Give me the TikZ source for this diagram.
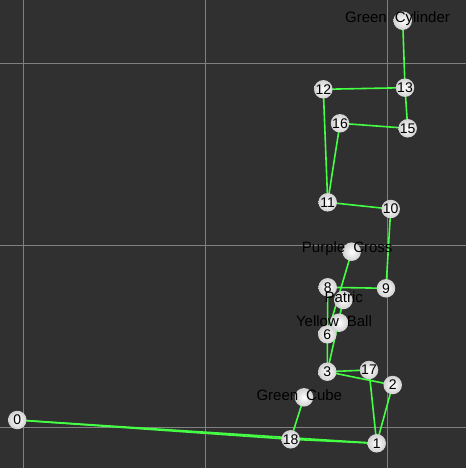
\documentclass[tikz,border=0pt]{standalone}
\usepackage{fontspec}
\setmainfont{Liberation Sans}
\definecolor{bgc}{RGB}{48,48,48}
\definecolor{gridc}{RGB}{128,128,128}
\definecolor{edgec}{RGB}{68,255,68}
\tikzset{
  ballnode/.style={circle, minimum size=18.5pt, inner sep=0pt, shade, inner color=white, outer color=black!18, font=\fontsize{14}{14}\selectfont, text=black},
  edge/.style={draw=edgec, line width=1.6pt},
  gridline/.style={draw=gridc, line width=0.9pt},
  objlabel/.style={font=\fontsize{15}{15}\selectfont, text=black, inner sep=0pt}
}
\begin{document}
\begin{tikzpicture}[x=1pt,y=-1pt]
\fill[bgc] (0,0) rectangle (466,468);
\useasboundingbox (0,0) rectangle (466,468);
% grid
\foreach \gx in {23,205,387} {\draw[gridline] (\gx,0) -- (\gx,468);}
\foreach \gy in {63,245,427} {\draw[gridline] (0,\gy) -- (466,\gy);}
% node positions
\coordinate (c0) at (17.3,420);
\coordinate (c1) at (376.7,443.3);
\coordinate (c2) at (392.7,385);
\coordinate (c3) at (327.3,371.7);
\coordinate (c6) at (327.3,334.3);
\coordinate (c8) at (327.7,287.3);
\coordinate (c9) at (386,288.3);
\coordinate (c10) at (390.7,209);
\coordinate (c11) at (327.7,202.3);
\coordinate (c12) at (323.3,89.3);
\coordinate (c13) at (405,87.7);
\coordinate (c15) at (407.7,128.3);
\coordinate (c16) at (340,123.3);
\coordinate (c17) at (369,370);
\coordinate (c18) at (290.7,439.3);
\coordinate (cgcyl) at (402.7,20.7);
\coordinate (cpc) at (351.7,251.7);
\coordinate (cpat) at (343.3,300);
\coordinate (cyb) at (339,322.7);
\coordinate (cgcube) at (304,397.3);
% edges
\draw[edge] (c0) -- (c18);
\draw[edge] (c0) -- (c1);
\draw[edge] (c18) -- (c1);
\draw[edge] (cgcube) -- (c18);
\draw[edge] (c1) -- (c17);
\draw[edge] (c1) -- (c2);
\draw[edge] (c3) -- (c17);
\draw[edge] (c3) -- (c2);
\draw[edge] (c3) -- (c8);
\draw[edge] (c3) -- (cpat);
\draw[edge] (cpc) -- (c6);
\draw[edge] (c8) -- (c9);
\draw[edge] (c9) -- (c10);
\draw[edge] (c10) -- (c11);
\draw[edge] (c11) -- (c12);
\draw[edge] (c11) -- (c16);
\draw[edge] (c12) -- (c13);
\draw[edge] (c16) -- (c15);
\draw[edge] (c15) -- (c13);
\draw[edge] (c13) -- (cgcyl);
% balls
\node[ballnode] (n0) at (c0) {0};
\node[ballnode] (n1) at (c1) {1};
\node[ballnode] (n2) at (c2) {2};
\node[ballnode] (n3) at (c3) {3};
\node[ballnode] (n8) at (c8) {8};
\node[ballnode] (n9) at (c9) {9};
\node[ballnode] (n10) at (c10) {10};
\node[ballnode] (n11) at (c11) {11};
\node[ballnode] (n12) at (c12) {12};
\node[ballnode] (n13) at (c13) {13};
\node[ballnode] (n15) at (c15) {15};
\node[ballnode] (n16) at (c16) {16};
\node[ballnode] (n17) at (c17) {17};
\node[ballnode] (n18) at (c18) {18};
\node[ballnode] (ngcyl) at (cgcyl) {};
\node[ballnode] (npc) at (cpc) {};
\node[ballnode] (npat) at (cpat) {};
\node[ballnode] (nyb) at (cyb) {};
\node[ballnode] (n6) at (c6) {6};
\node[ballnode] (ngcube) at (cgcube) {};
% labels
\node[objlabel] (lgcyl) at (397.5,18.5) {Green\hspace{8pt}Cylinder};
\node[objlabel] (lpc) at (347.2,248.7) {Purple\hspace{8pt}Cross};
\node[objlabel] (lpat) at (343.8,296.7) {Patric};
\node[objlabel] (lyb) at (334,321) {Yellow\hspace{8pt}Ball};
\node[objlabel] (lgcube) at (299.3,395) {Green\hspace{8pt}Cube};
\end{tikzpicture}
\end{document}
